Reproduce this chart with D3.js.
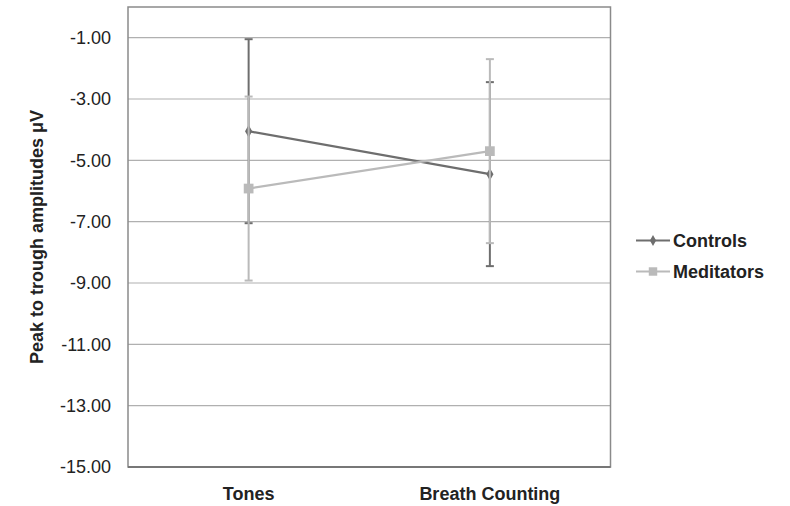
<!DOCTYPE html>
<html>
<head>
<meta charset="utf-8">
<script src="https://cdn.jsdelivr.net/npm/d3@7"></script>
<style>
  body { margin: 0; background: #fff; }
  svg text { font-family: "Liberation Sans", Arial, sans-serif; }
</style>
</head>
<body>
<div id="chart"></div>
<script>
// dados
const categorias = ['Tones', 'Breath Counting'];
const series = ['Controls', 'Meditators'];
const controles = [-4.05, -5.45];
const controlesErro = [3.0, 3.0];
const meditadores = [-5.92, -4.70];
const meditadoresErro = [3.0, 3.0];
const ticksY = [-15, -13, -11, -9, -7, -5, -3, -1];

const largura = 790, altura = 506;
const margem = { topo: 7, direita: 180, baixo: 39, esquerda: 128 };

const svg = d3.select('#chart').append('svg')
  .attr('width', largura)
  .attr('height', altura);

const escalaX = d3.scaleBand()
  .domain(categorias)
  .range([margem.esquerda, largura - margem.direita + 0.5]);

const escalaY = d3.scaleLinear()
  .domain([-15, 0])
  .range([altura - margem.baixo, margem.topo]);

// grade
svg.append('g')
  .selectAll('line')
  .data(ticksY)
  .enter().append('line')
  .attr('x1', margem.esquerda)
  .attr('x2', escalaX.range()[1])
  .attr('y1', d => escalaY(d))
  .attr('y2', d => escalaY(d))
  .attr('stroke', '#b0b0b0')
  .attr('stroke-width', 1.2);

// borda
svg.append('rect')
  .attr('x', margem.esquerda)
  .attr('y', escalaY(0))
  .attr('width', escalaX.range()[1] - margem.esquerda)
  .attr('height', escalaY(-15) - escalaY(0))
  .attr('fill', 'none')
  .attr('stroke', '#8a8a8a')
  .attr('stroke-width', 1.5);

// eixo inferior
svg.append('line')
  .attr('x1', margem.esquerda)
  .attr('x2', escalaX.range()[1])
  .attr('y1', escalaY(-15))
  .attr('y2', escalaY(-15))
  .attr('stroke', '#777')
  .attr('stroke-width', 2);

// rótulos Y (hífen comum, como no original)
const formatoY = d => d3.format('.2f')(d).replace('\u2212', '-');
const eixoY = svg.append('g')
  .attr('transform', `translate(${margem.esquerda - 17},0)`)
  .call(d3.axisLeft(escalaY).tickValues(ticksY).tickFormat(formatoY).tickSize(0));
eixoY.select('.domain').remove();
eixoY.selectAll('text')
  .attr('x', 0)
  .style('font-size', '18px')
  .attr('fill', '#222');

// rótulos X
const eixoX = svg.append('g')
  .attr('transform', `translate(0,${escalaY(-15) + 17})`)
  .call(d3.axisBottom(escalaX).tickSize(0));
eixoX.select('.domain').remove();
eixoX.selectAll('text')
  .style('font-size', '18px')
  .style('font-weight', 'bold')
  .attr('fill', '#222');

// título Y
svg.append('text')
  .attr('transform', `translate(37,${(escalaY(0) + escalaY(-15)) / 2}) rotate(-90)`)
  .attr('text-anchor', 'middle')
  .attr('dy', '0.35em')
  .style('font-size', '18px')
  .style('font-weight', 'bold')
  .attr('fill', '#222')
  .text('Peak to trough amplitudes μV');

const dadosSeries = [
  { nome: series[0], valores: controles, erros: controlesErro, cor: '#6e6e6e', marca: d3.symbolDiamond, tam: 45 },
  { nome: series[1], valores: meditadores, erros: meditadoresErro, cor: '#bababa', marca: d3.symbolSquare, tam: 95 }
];

const cx = c => escalaX(c) + escalaX.bandwidth() / 2;

dadosSeries.forEach(s => {
  const g = svg.append('g');
  const pts = categorias.map((c, i) => ({ c, v: s.valores[i], e: s.erros[i] }));

  // barras de erro
  g.selectAll('.erro')
    .data(pts).enter().append('line')
    .attr('x1', d => cx(d.c)).attr('x2', d => cx(d.c))
    .attr('y1', d => escalaY(d.v + d.e)).attr('y2', d => escalaY(d.v - d.e))
    .attr('stroke', s.cor).attr('stroke-width', 2);
  [1, -1].forEach(sinal => {
    g.selectAll('.cap' + sinal)
      .data(pts).enter().append('line')
      .attr('x1', d => cx(d.c) - 4).attr('x2', d => cx(d.c) + 4)
      .attr('y1', d => escalaY(d.v + sinal * d.e)).attr('y2', d => escalaY(d.v + sinal * d.e))
      .attr('stroke', s.cor).attr('stroke-width', 2);
  });

  // linha
  g.append('path')
    .datum(pts)
    .attr('fill', 'none')
    .attr('stroke', s.cor)
    .attr('stroke-width', 2.2)
    .attr('d', d3.line().x(d => cx(d.c)).y(d => escalaY(d.v)));

  // marcadores
  g.selectAll('.marca')
    .data(pts).enter().append('path')
    .attr('transform', d => `translate(${cx(d.c)},${escalaY(d.v)})`)
    .attr('d', d3.symbol().type(s.marca).size(s.tam))
    .attr('fill', s.cor);
});

// legenda
const legenda = svg.append('g').attr('transform', 'translate(636,240.5)');
dadosSeries.forEach((s, i) => {
  const item = legenda.append('g').attr('transform', `translate(0,${i * 31})`);
  item.append('line').attr('x1', 0).attr('x2', 34).attr('y1', 0).attr('y2', 0)
    .attr('stroke', s.cor).attr('stroke-width', 2.2);
  item.append('path').attr('transform', 'translate(17,0)')
    .attr('d', d3.symbol().type(s.marca).size(s.tam * 0.75)).attr('fill', s.cor);
  item.append('text').attr('x', 37).attr('y', 0).attr('dy', '0.35em')
    .style('font-size', '18px').style('font-weight', 'bold').attr('fill', '#222')
    .text(s.nome);
});
</script>
</body>
</html>
